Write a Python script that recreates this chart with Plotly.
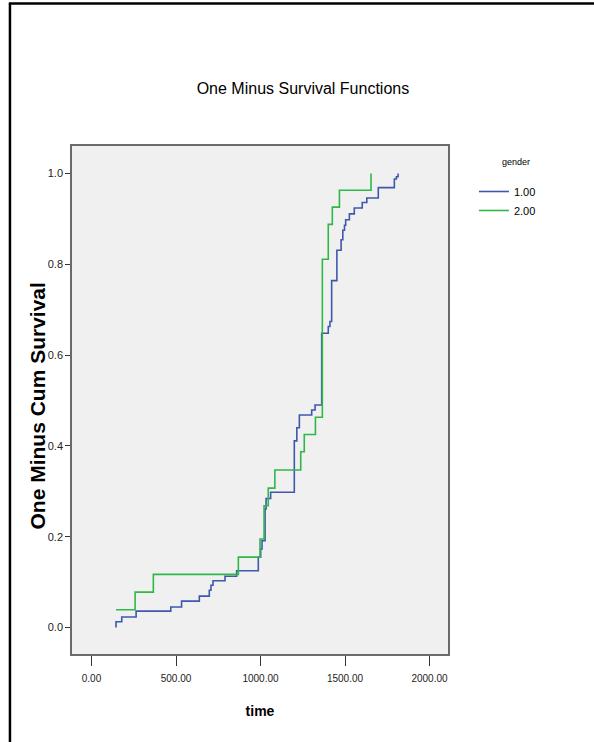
import plotly.graph_objects as go

# gender 1.00
time_g1 = [145, 145, 179, 264, 469, 533, 638, 697, 707, 719,
           790, 859, 987, 1001, 1009, 1027, 1033, 1060, 1200, 1215,
           1230, 1303, 1323, 1362, 1401, 1411, 1421, 1452, 1477, 1487,
           1497, 1504, 1526, 1555, 1602, 1629, 1697, 1792, 1804, 1814]
omsurv_g1 = [0.0, 0.0125, 0.023, 0.036, 0.045, 0.058, 0.069, 0.082, 0.093, 0.103,
             0.113, 0.125, 0.155, 0.173, 0.191, 0.261, 0.284, 0.298, 0.411, 0.44,
             0.468, 0.479, 0.49, 0.648, 0.663, 0.674, 0.764, 0.831, 0.854, 0.875,
             0.886, 0.898, 0.911, 0.924, 0.936, 0.946, 0.969, 0.988, 0.993, 1.0]

# gender 2.00
time_g2 = [145, 258, 366, 869, 997, 1021, 1046, 1085, 1238, 1259,
           1325, 1366, 1401, 1425, 1467, 1654]
omsurv_g2 = [0.039, 0.078, 0.117, 0.155, 0.195, 0.268, 0.307, 0.347, 0.387, 0.425,
             0.463, 0.811, 0.888, 0.926, 0.963, 1.0]

group_names = ["1.00", "2.00"]
x_ticks = [0, 500, 1000, 1500, 2000]
y_ticks = [0.0, 0.2, 0.4, 0.6, 0.8, 1.0]

FONT = "Liberation Sans, Arial, sans-serif"

fig = go.Figure()
fig.add_trace(go.Scatter(x=time_g1, y=omsurv_g1, mode="lines", name=group_names[0],
                         line=dict(color="#3E58AC", width=1.6, shape="hv")))
fig.add_trace(go.Scatter(x=time_g2, y=omsurv_g2, mode="lines", name=group_names[1],
                         line=dict(color="#2EB848", width=1.6, shape="hv")))

# outer black frame (left and top edges)
fig.add_shape(type="line", xref="paper", yref="paper",
              x0=-0.165, x1=-0.165, y0=1.2805, y1=-0.19,
              line=dict(color="black", width=2.5))
fig.add_shape(type="line", xref="paper", yref="paper",
              x0=-0.168, x1=1.42, y0=1.2805, y1=1.2805,
              line=dict(color="black", width=2.5))

# y-axis title
fig.add_annotation(text="<b>One Minus Cum Survival</b>", xref="paper", yref="paper",
                   x=-0.092, y=0.488, xanchor="center", yanchor="middle",
                   textangle=-90, showarrow=False,
                   font=dict(family=FONT, size=21, color="black"))

# legend heading
fig.add_annotation(text="gender", xref="paper", yref="paper",
                   x=(516 - 72) / 376, y=(654 - 162) / 508,
                   xanchor="center", yanchor="middle", showarrow=False,
                   font=dict(family=FONT, size=9, color="black"))

fig.update_layout(
    width=594, height=742,
    margin=dict(l=72, r=146, t=146, b=88),
    paper_bgcolor="white",
    plot_bgcolor="#F0F0F0",
    title=dict(text="One Minus Survival Functions", xref="container", yref="container",
               x=0.51, y=0.8814, xanchor="center", yanchor="middle",
               font=dict(family=FONT, size=16, color="black")),
    legend=dict(x=1.069, y=0.939, xanchor="left", yanchor="top",
                font=dict(family=FONT, size=11, color="black"),
                bgcolor="rgba(0,0,0,0)", tracegroupgap=0),
    showlegend=True,
)
fig.update_xaxes(range=[-115.4, 2109.5], tickvals=x_ticks, tickformat=".2f",
                 showgrid=False, zeroline=False,
                 showline=True, mirror=True, linecolor="#6a6a6a", linewidth=1.5,
                 ticks="outside", ticklen=10, tickcolor="#333", tickwidth=1,
                 ticklabelstandoff=4,
                 tickfont=dict(family=FONT, size=10, color="#222"),
                 title=dict(text="<b>time</b>", font=dict(family=FONT, size=14, color="black"),
                            standoff=23))
fig.update_yaxes(range=[-0.0584, 1.0606], tickvals=y_ticks, tickformat=".1f",
                 showgrid=False, zeroline=False,
                 showline=True, mirror=True, linecolor="#6a6a6a", linewidth=1.5,
                 ticks="outside", ticklen=5, tickcolor="#333", tickwidth=1,
                 tickfont=dict(family=FONT, size=11, color="#222"))

fig.write_html("out.html")
